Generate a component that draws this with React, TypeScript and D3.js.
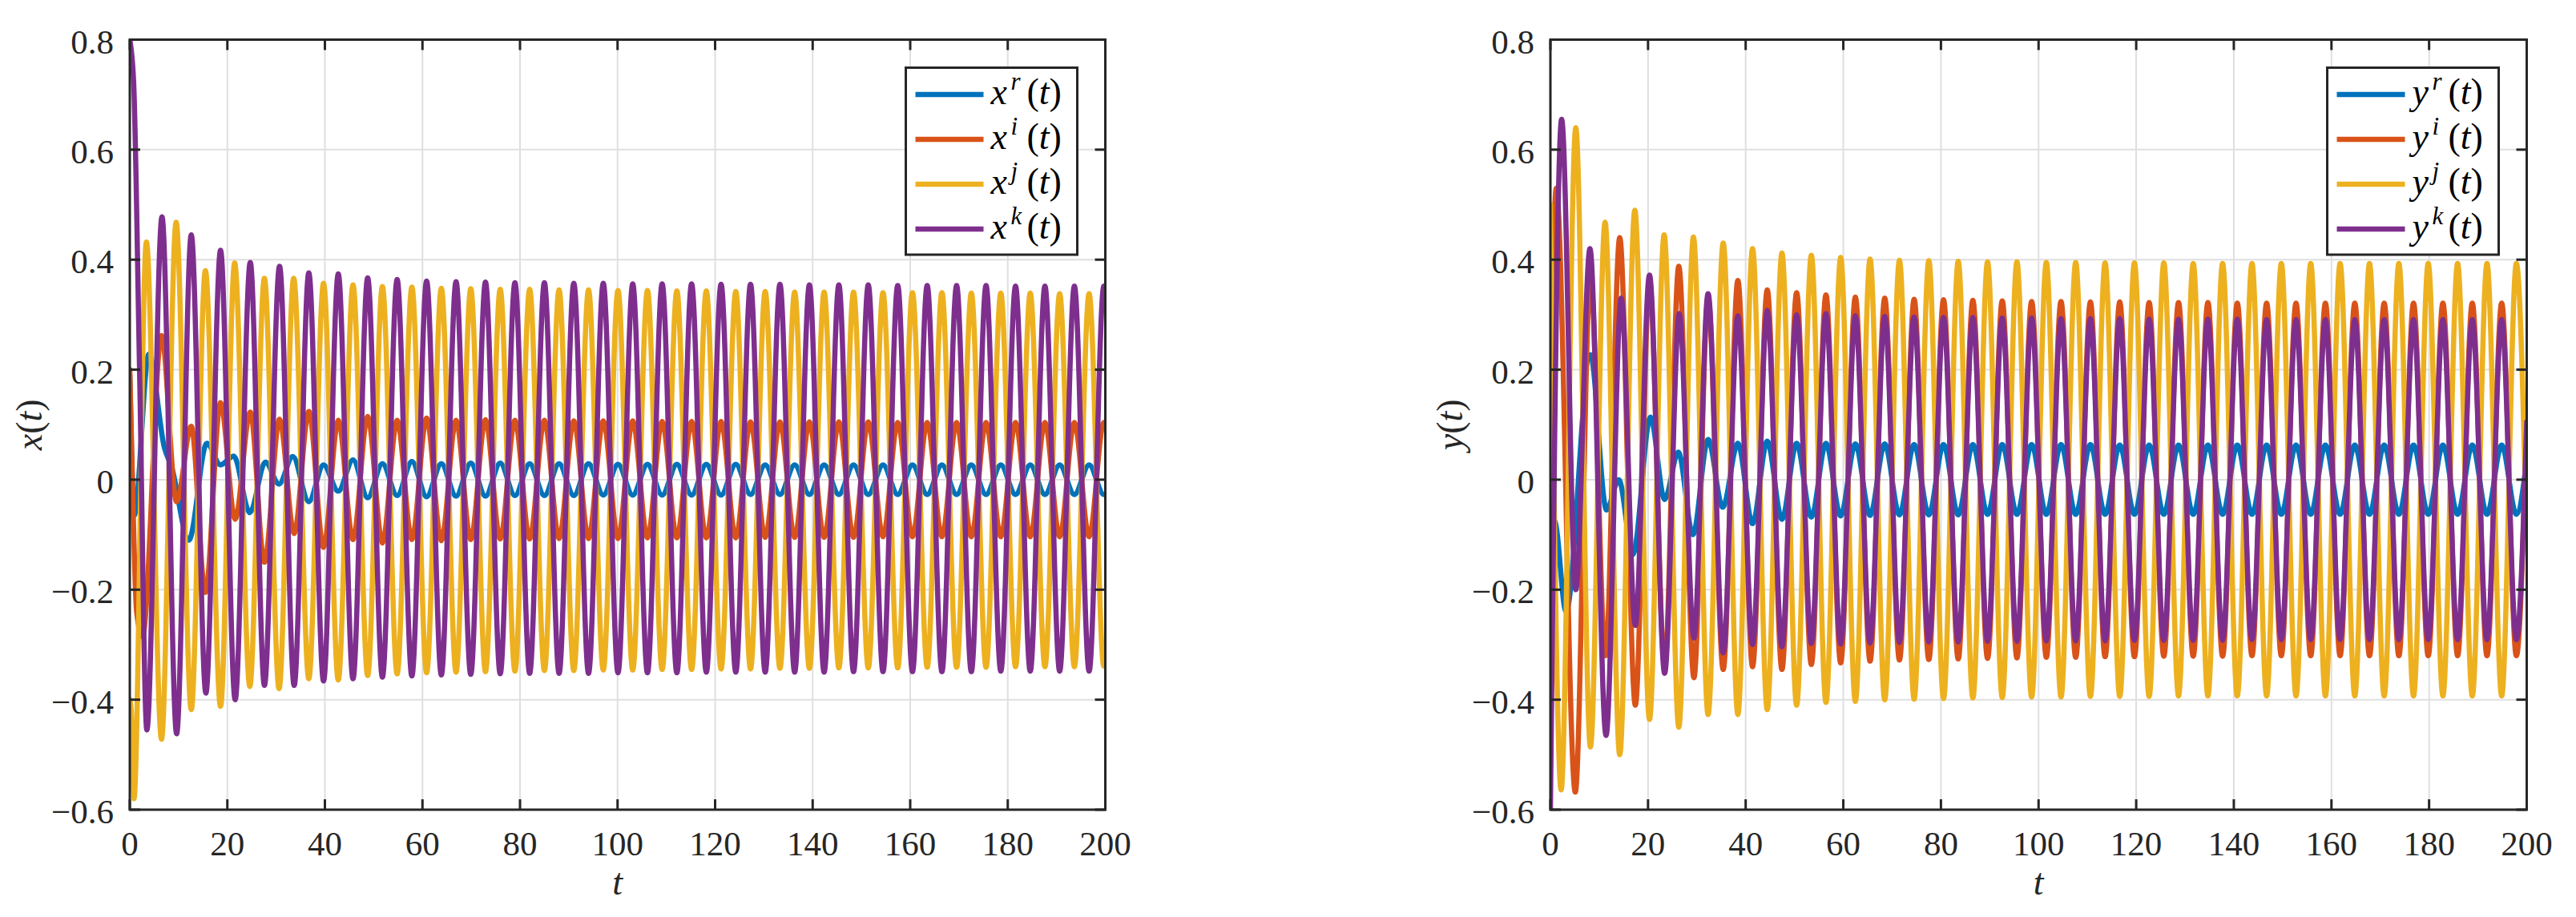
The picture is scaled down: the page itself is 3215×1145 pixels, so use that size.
import React from 'react';
import * as d3 from 'd3';

const W = 3215;
const H = 1145;

const xTicks = [0, 20, 40, 60, 80, 100, 120, 140, 160, 180, 200];
const yTicks = [-0.6, -0.4, -0.2, 0, 0.2, 0.4, 0.6, 0.8];
const yTickLabels = ['−0.6', '−0.4', '−0.2', '0', '0.2', '0.4', '0.6', '0.8'];
const seriesColors = ['#0072BD', '#D95319', '#EDB120', '#7E2F8E'];
const seriesSups = ['r', 'i', 'j', 'k'];

// ---------- Left panel x(t): transient extrema [t, value] ----------
const xrHead = [[0, 0.19], [0.35, 0.05], [0.9, -0.065], [3.9, 0.228], [7.1, 0.058], [8.6, 0.022], [12.1, -0.11], [15.8, 0.066], [18.6, 0.027], [21.3, 0.043], [24.6, -0.06], [27.8, 0.032], [30.6, -0.008], [33.4, 0.042]];
const xiHead = [[0, 0.2], [0.4, 0.05], [1.4, -0.24], [2.6, -0.285], [6.5, 0.262], [9.6, -0.04], [12.6, 0.097], [15.5, -0.205], [18.6, 0.14], [21.6, -0.072], [24.7, 0.123], [27.6, -0.15], [30.7, 0.11], [33.7, -0.098]];
const xjHead = [[0, -0.4], [0.3, -0.42], [0.85, -0.58], [3.4, 0.432], [6.5, -0.472], [9.5, 0.468], [12.6, -0.418], [15.5, 0.38], [18.6, -0.412], [21.5, 0.394], [24.6, -0.376], [27.6, 0.366], [30.6, -0.38], [33.6, 0.366]];
const xkHead = [[0, 0.8], [0.8, 0.72], [2.0, 0.2], [3.5, -0.455], [6.6, 0.478], [9.6, -0.462], [12.6, 0.445], [15.6, -0.388], [18.6, 0.417], [21.6, -0.4], [24.7, 0.395], [27.6, -0.374], [30.7, 0.388], [33.7, -0.374]];

// extrema times of the settled oscillation (left panel)
const tGridL = [
  36.70, 39.72, 42.74, 45.76, 48.77, 51.79, 54.81, 57.83, 60.85, 63.87,
  66.89, 69.90, 72.92, 75.94, 78.96, 81.98, 85.00, 88.01, 91.03, 94.05,
  97.07, 100.09, 103.11, 106.13, 109.14, 112.16, 115.18, 118.20, 121.22, 124.24,
  127.26, 130.27, 133.29, 136.31, 139.33, 142.35, 145.37, 148.38, 151.40, 154.42,
  157.44, 160.46, 163.48, 166.50, 169.51, 172.53, 175.55, 178.57, 181.59, 184.61,
  187.62, 190.64, 193.66, 196.68, 199.70,
];
const xrTail = [
  -0.040, 0.027, -0.021, 0.036, -0.033, 0.029, -0.029, 0.033, -0.031, 0.029,
  -0.030, 0.030, -0.030, 0.030, -0.029, 0.029, -0.029, 0.029, -0.029, 0.029,
  -0.028, 0.028, -0.028, 0.028, -0.028, 0.028, -0.028, 0.028, -0.028, 0.028,
  -0.027, 0.027, -0.027, 0.027, -0.027, 0.027, -0.027, 0.027, -0.027, 0.027,
  -0.027, 0.027, -0.027, 0.027, -0.027, 0.027, -0.027, 0.027, -0.027, 0.027,
  -0.027, 0.027, -0.027, 0.027, -0.027,
];
const xiTail = [
  0.124, -0.123, 0.108, -0.109, 0.115, -0.115, 0.108, -0.109, 0.112, -0.111,
  0.108, -0.109, 0.109, -0.108, 0.108, -0.108, 0.108, -0.107, 0.107, -0.107,
  0.107, -0.107, 0.107, -0.106, 0.106, -0.106, 0.106, -0.106, 0.106, -0.106,
  0.105, -0.105, 0.105, -0.105, 0.105, -0.105, 0.105, -0.105, 0.105, -0.104,
  0.104, -0.104, 0.104, -0.104, 0.104, -0.104, 0.104, -0.104, 0.104, -0.104,
  0.104, -0.104, 0.104, -0.104, 0.104,
];
const xjTail = [
  -0.362, 0.357, -0.364, 0.354, -0.356, 0.351, -0.353, 0.350, -0.351, 0.348,
  -0.350, 0.347, -0.349, 0.346, -0.348, 0.346, -0.347, 0.345, -0.347, 0.345,
  -0.346, 0.344, -0.346, 0.344, -0.345, 0.343, -0.345, 0.343, -0.344, 0.342,
  -0.344, 0.342, -0.343, 0.341, -0.343, 0.341, -0.342, 0.341, -0.342, 0.340,
  -0.342, 0.340, -0.341, 0.340, -0.341, 0.339, -0.341, 0.339, -0.340, 0.339,
  -0.340, 0.338, -0.340, 0.338, -0.339,
];
const xkTail = [
  0.376, -0.366, 0.374, -0.362, 0.367, -0.359, 0.364, -0.357, 0.361, -0.355,
  0.360, -0.354, 0.359, -0.353, 0.358, -0.352, 0.358, -0.352, 0.357, -0.352,
  0.357, -0.351, 0.356, -0.351, 0.356, -0.351, 0.356, -0.350, 0.355, -0.350,
  0.355, -0.350, 0.355, -0.350, 0.354, -0.350, 0.354, -0.349, 0.354, -0.349,
  0.353, -0.349, 0.353, -0.349, 0.353, -0.349, 0.353, -0.348, 0.352, -0.348,
  0.352, -0.348, 0.352, -0.348, 0.352,
];
const xEnd = [-0.027, 0.104, -0.335, 0.351];

// ---------- Right panel y(t) ----------
const yrHead = [[0, -0.07], [0.9, -0.075], [3.2, -0.24], [8.2, 0.227], [11.5, -0.055], [14.0, 0.0], [16.9, -0.136], [20.5, 0.114], [23.4, -0.036], [26.2, 0.05], [29.2, -0.1], [32.3, 0.073], [35.3, -0.05]];
const yiHead = [[0, 0.1], [1.2, 0.53], [5.1, -0.568], [8.2, 0.37], [11.3, -0.32], [14.2, 0.44], [17.4, -0.41], [20.3, 0.36], [23.4, -0.34], [26.3, 0.388], [29.4, -0.36], [32.3, 0.33], [35.4, -0.345]];
const yjHead = [[0, 0.5], [2.2, -0.564], [5.2, 0.64], [8.2, -0.486], [11.2, 0.468], [14.2, -0.5], [17.3, 0.49], [20.3, -0.436], [23.3, 0.445], [26.3, -0.45], [29.3, 0.441], [32.3, -0.427], [35.4, 0.43]];
const ykHead = [[0, -0.6], [2.3, 0.655], [5.2, -0.2], [8.1, 0.42], [11.4, -0.465], [14.5, 0.33], [17.4, -0.265], [20.3, 0.372], [23.4, -0.352], [26.4, 0.302], [29.4, -0.288], [32.3, 0.338], [35.4, -0.315]];

const tGridR = [
  38.40, 41.41, 44.42, 47.43, 50.44, 53.45, 56.45, 59.46, 62.47, 65.48,
  68.49, 71.50, 74.51, 77.52, 80.53, 83.54, 86.54, 89.55, 92.56, 95.57,
  98.58, 101.59, 104.60, 107.61, 110.62, 113.63, 116.63, 119.64, 122.65, 125.66,
  128.67, 131.68, 134.69, 137.70, 140.71, 143.72, 146.72, 149.73, 152.74, 155.75,
  158.76, 161.77, 164.78, 167.79, 170.80, 173.81, 176.81, 179.82, 182.83, 185.84,
  188.85, 191.86, 194.87, 197.88,
];
const yrTail = [
  0.066, -0.080, 0.070, -0.072, 0.066, -0.068, 0.066, -0.066, 0.065, -0.065,
  0.065, -0.064, 0.064, -0.064, 0.064, -0.064, 0.064, -0.063, 0.064, -0.063,
  0.064, -0.063, 0.064, -0.063, 0.064, -0.063, 0.063, -0.063, 0.063, -0.063,
  0.063, -0.063, 0.063, -0.063, 0.063, -0.063, 0.063, -0.063, 0.063, -0.063,
  0.063, -0.063, 0.063, -0.063, 0.063, -0.063, 0.063, -0.063, 0.063, -0.063,
  0.063, -0.063, 0.063, -0.063,
];
const yiTail = [
  0.362, -0.340, 0.345, -0.345, 0.340, -0.336, 0.336, -0.333, 0.332, -0.330,
  0.330, -0.328, 0.328, -0.327, 0.327, -0.326, 0.326, -0.325, 0.325, -0.324,
  0.324, -0.323, 0.324, -0.323, 0.323, -0.322, 0.323, -0.322, 0.322, -0.321,
  0.322, -0.321, 0.322, -0.321, 0.321, -0.320, 0.321, -0.320, 0.321, -0.320,
  0.321, -0.320, 0.321, -0.320, 0.321, -0.320, 0.321, -0.320, 0.321, -0.320,
  0.321, -0.320, 0.321, -0.320,
];
const yjTail = [
  -0.427, 0.420, -0.418, 0.412, -0.410, 0.408, -0.405, 0.404, -0.403, 0.401,
  -0.400, 0.399, -0.399, 0.398, -0.398, 0.397, -0.397, 0.396, -0.396, 0.396,
  -0.395, 0.395, -0.395, 0.395, -0.394, 0.394, -0.394, 0.394, -0.394, 0.394,
  -0.393, 0.393, -0.393, 0.393, -0.393, 0.393, -0.393, 0.393, -0.393, 0.393,
  -0.393, 0.393, -0.393, 0.393, -0.393, 0.393, -0.393, 0.393, -0.393, 0.393,
  -0.393, 0.393, -0.393, 0.393,
];
const ykTail = [
  0.298, -0.300, 0.308, -0.304, 0.300, -0.298, 0.302, -0.299, 0.298, -0.297,
  0.297, -0.296, 0.296, -0.295, 0.295, -0.295, 0.295, -0.294, 0.294, -0.294,
  0.294, -0.293, 0.293, -0.293, 0.293, -0.293, 0.293, -0.292, 0.292, -0.292,
  0.292, -0.292, 0.292, -0.292, 0.292, -0.291, 0.291, -0.291, 0.291, -0.291,
  0.291, -0.291, 0.291, -0.291, 0.291, -0.291, 0.291, -0.291, 0.291, -0.291,
  0.291, -0.291, 0.291, -0.291,
];
const yEnd = [0.035, 0.114, -0.12, 0.105];

type Pt = [number, number];

function build(head: number[][], tGrid: number[], tail: number[], end: number): Pt[] {
  const pts: Pt[] = head.map((d) => [d[0], d[1]] as Pt);
  tGrid.forEach((t, i) => pts.push([t, tail[i]]));
  pts.push([200, end]);
  return pts;
}

const leftSeries: Pt[][] = [
  build(xrHead, tGridL, xrTail, xEnd[0]),
  build(xiHead, tGridL, xiTail, xEnd[1]),
  build(xjHead, tGridL, xjTail, xEnd[2]),
  build(xkHead, tGridL, xkTail, xEnd[3]),
];
const rightSeries: Pt[][] = [
  build(yrHead, tGridR, yrTail, yEnd[0]),
  build(yiHead, tGridR, yiTail, yEnd[1]),
  build(yjHead, tGridR, yjTail, yEnd[2]),
  build(ykHead, tGridR, ykTail, yEnd[3]),
];

const AX = '#262626';
const GRID = '#dfdfdf';
const serifStyle = { fontFamily: 'Liberation Serif' };

interface PanelProps {
  id: string;
  x0: number;
  x1: number;
  y0: number;
  y1: number;
  series: Pt[][];
  varName: string;
}

function Panel({ id, x0, x1, y0, y1, series, varName }: PanelProps) {
  const xs = d3.scaleLinear().domain([0, 200]).range([x0, x1]);
  const ys = d3.scaleLinear().domain([-0.6, 0.8]).range([y1, y0]);
  const line = d3
    .line<Pt>()
    .x((d) => xs(d[0]))
    .y((d) => ys(d[1]))
    .curve(d3.curveMonotoneX);
  const tickLen = 13;
  const boxR = x1 - 35;
  const boxL = boxR - 214;
  const boxT = 84.5;
  const boxB = 318;
  const cx = (x0 + x1) / 2;
  const cy = (y0 + y1) / 2;
  return (
    <g>
      <defs>
        <clipPath id={`clip-${id}`}>
          <rect x={x0} y={y0} width={x1 - x0} height={y1 - y0} />
        </clipPath>
      </defs>
      {/* grid */}
      {xTicks.map((t) => (
        <line key={`gx${t}`} x1={xs(t)} x2={xs(t)} y1={y0} y2={y1} stroke={GRID} strokeWidth={2} />
      ))}
      {yTicks.map((t) => (
        <line key={`gy${t}`} x1={x0} x2={x1} y1={ys(t)} y2={ys(t)} stroke={GRID} strokeWidth={2} />
      ))}
      {/* data */}
      <g clipPath={`url(#clip-${id})`}>
        {series.map((s, i) => (
          <path
            key={i}
            d={line(s) || ''}
            fill="none"
            stroke={seriesColors[i]}
            strokeWidth={6.5}
            strokeLinejoin="round"
            strokeLinecap="round"
          />
        ))}
      </g>
      {/* ticks on all four sides */}
      {xTicks.map((t) => (
        <g key={`tx${t}`}>
          <line x1={xs(t)} x2={xs(t)} y1={y1} y2={y1 - tickLen} stroke={AX} strokeWidth={3} />
          <line x1={xs(t)} x2={xs(t)} y1={y0} y2={y0 + tickLen} stroke={AX} strokeWidth={3} />
          <text x={xs(t)} y={1068} textAnchor="middle" style={serifStyle} fontSize={43} fill={AX}>
            {t}
          </text>
        </g>
      ))}
      {yTicks.map((t, i) => (
        <g key={`ty${t}`}>
          <line x1={x0} x2={x0 + tickLen} y1={ys(t)} y2={ys(t)} stroke={AX} strokeWidth={3} />
          <line x1={x1} x2={x1 - tickLen} y1={ys(t)} y2={ys(t)} stroke={AX} strokeWidth={3} />
          <text x={x0 - 20} y={ys(t) + 17} textAnchor="end" style={serifStyle} fontSize={43} fill={AX}>
            {yTickLabels[i]}
          </text>
        </g>
      ))}
      {/* box */}
      <rect x={x0} y={y0} width={x1 - x0} height={y1 - y0} fill="none" stroke={AX} strokeWidth={3} />
      {/* axis labels */}
      <text x={cx} y={1117} textAnchor="middle" style={serifStyle} fontSize={46} fontStyle="italic" fill={AX}>
        t
      </text>
      <text
        transform={`translate(${x0 - 110}, ${cy}) rotate(-90)`}
        textAnchor="middle"
        style={serifStyle}
        fontSize={46}
        fill={AX}
      >
        <tspan fontStyle="italic">{varName}</tspan>
        <tspan>(</tspan>
        <tspan fontStyle="italic">t</tspan>
        <tspan>)</tspan>
      </text>
      {/* legend */}
      <rect x={boxL} y={boxT} width={boxR - boxL} height={boxB - boxT} fill="#ffffff" stroke={AX} strokeWidth={3} />
      {seriesSups.map((sup, i) => {
        const ly = 118 + 56 * i;
        const bx = boxL + 106;
        return (
          <g key={`lg${i}`}>
            <line x1={boxL + 12} x2={boxL + 97} y1={ly} y2={ly} stroke={seriesColors[i]} strokeWidth={6.5} />
            <text y={ly + 12} style={serifStyle} fontSize={46} fill="#000">
              <tspan x={bx} fontStyle="italic">{varName}</tspan>
              <tspan x={bx + 25} dy={-18} fontSize={31} fontStyle="italic">{sup}</tspan>
              <tspan x={bx + 45} dy={18}>(</tspan>
              <tspan fontStyle="italic">t</tspan>
              <tspan>)</tspan>
            </text>
          </g>
        );
      })}
    </g>
  );
}

export default function App() {
  return (
    <svg
      width={W}
      height={H}
      viewBox={`0 0 ${W} ${H}`}
      style={{ position: 'absolute', left: 0, top: 0, background: '#fff' }}
    >
      <rect x={0} y={0} width={W} height={H} fill="#ffffff" />
      <Panel id="left" x0={162} x1={1379.5} y0={49.5} y1={1011} series={leftSeries} varName="x" />
      <Panel id="right" x0={1935} x1={3153.5} y0={49.5} y1={1011} series={rightSeries} varName="y" />
    </svg>
  );
}
